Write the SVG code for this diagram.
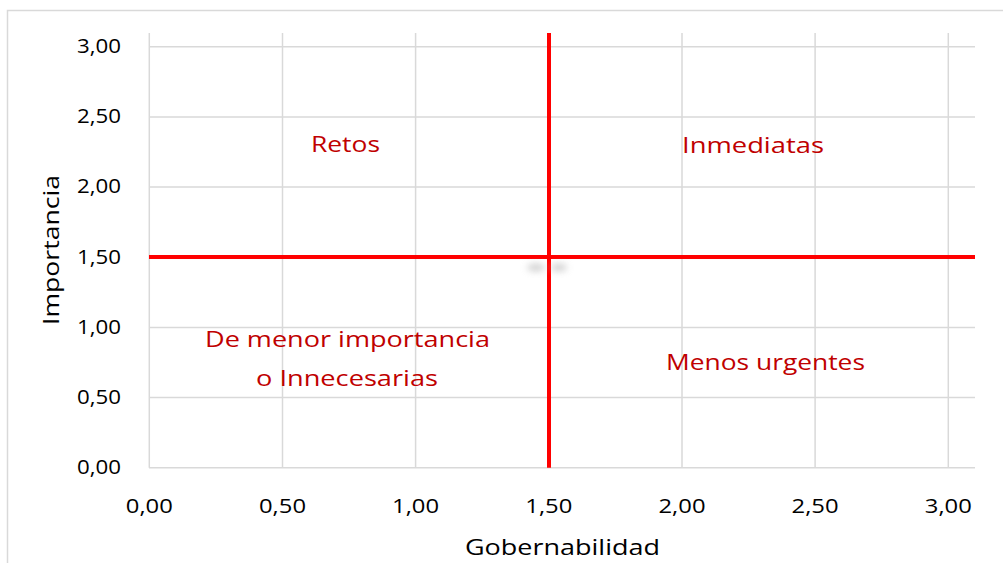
<svg xmlns="http://www.w3.org/2000/svg" width="1003" height="563" viewBox="0 0 1003 563">
<defs>
<style>
.grid{stroke:#D9D9D9;stroke-width:1.5;fill:none}
.red{stroke:#FF0000;stroke-width:4;fill:none}
.tick{font-family:"Open Sans","Liberation Sans",sans-serif;font-size:20px;fill:#000}
.ytick{text-anchor:end}
.xtick{text-anchor:middle}
.title{font-family:"Open Sans","Liberation Sans",sans-serif;font-size:22px;fill:#000;text-anchor:middle}
.quad{font-family:"Open Sans","Liberation Sans",sans-serif;font-size:22px;fill:#C00000;text-anchor:middle}
</style>
<filter id="blur" x="-50%" y="-100%" width="200%" height="300%"><feGaussianBlur stdDeviation="3.5"/></filter>
</defs>
<rect x="7.5" y="10.5" width="1000" height="560" fill="#FFFFFF" stroke="#D9D9D9" stroke-width="1.5"/>
<g id="gridlines">
<line class="grid" x1="149" y1="46.7" x2="975" y2="46.7"/>
<line class="grid" x1="149" y1="116.9" x2="975" y2="116.9"/>
<line class="grid" x1="149" y1="187" x2="975" y2="187"/>
<line class="grid" x1="149" y1="257.2" x2="975" y2="257.2"/>
<line class="grid" x1="149" y1="327.4" x2="975" y2="327.4"/>
<line class="grid" x1="149" y1="397.5" x2="975" y2="397.5"/>
<line class="grid" x1="149" y1="467.7" x2="975" y2="467.7"/>
<line class="grid" x1="149.3" y1="33" x2="149.3" y2="467.7"/>
<line class="grid" x1="282.5" y1="33" x2="282.5" y2="467.7"/>
<line class="grid" x1="415.6" y1="33" x2="415.6" y2="467.7"/>
<line class="grid" x1="548.8" y1="33" x2="548.8" y2="467.7"/>
<line class="grid" x1="682" y1="33" x2="682" y2="467.7"/>
<line class="grid" x1="815.1" y1="33" x2="815.1" y2="467.7"/>
<line class="grid" x1="948.3" y1="33" x2="948.3" y2="467.7"/>
</g>
<g id="axis-labels">
<text class="tick ytick" x="121" y="53" textLength="44" lengthAdjust="spacingAndGlyphs">3,00</text>
<text class="tick ytick" x="121" y="123" textLength="44" lengthAdjust="spacingAndGlyphs">2,50</text>
<text class="tick ytick" x="121" y="193" textLength="44" lengthAdjust="spacingAndGlyphs">2,00</text>
<text class="tick ytick" x="121" y="264" textLength="44" lengthAdjust="spacingAndGlyphs">1,50</text>
<text class="tick ytick" x="121" y="334" textLength="44" lengthAdjust="spacingAndGlyphs">1,00</text>
<text class="tick ytick" x="121" y="404" textLength="44" lengthAdjust="spacingAndGlyphs">0,50</text>
<text class="tick ytick" x="121" y="474" textLength="44" lengthAdjust="spacingAndGlyphs">0,00</text>
<text class="tick xtick" x="149.3" y="513" textLength="47" lengthAdjust="spacingAndGlyphs">0,00</text>
<text class="tick xtick" x="282.5" y="513" textLength="47" lengthAdjust="spacingAndGlyphs">0,50</text>
<text class="tick xtick" x="415.6" y="513" textLength="47" lengthAdjust="spacingAndGlyphs">1,00</text>
<text class="tick xtick" x="548.8" y="513" textLength="47" lengthAdjust="spacingAndGlyphs">1,50</text>
<text class="tick xtick" x="682" y="513" textLength="47" lengthAdjust="spacingAndGlyphs">2,00</text>
<text class="tick xtick" x="815.1" y="513" textLength="47" lengthAdjust="spacingAndGlyphs">2,50</text>
<text class="tick xtick" x="948.3" y="513" textLength="47" lengthAdjust="spacingAndGlyphs">3,00</text>
<text class="title" x="562.5" y="555" textLength="195" lengthAdjust="spacingAndGlyphs">Gobernabilidad</text>
<text class="title" transform="translate(59 250) rotate(-90)" x="0" y="0" textLength="150" lengthAdjust="spacingAndGlyphs">Importancia</text>
</g>
<g id="connectors">
<line id="divider-v" class="red" x1="549" y1="33" x2="549" y2="467.7"/>
<line id="divider-h" class="red" x1="149" y1="257" x2="975" y2="257"/>
</g>
<g id="smudge" filter="url(#blur)" fill="#B0B0B0" opacity="0.65">
<ellipse cx="536" cy="267.5" rx="9" ry="3.5"/>
<ellipse cx="559" cy="267.5" rx="8" ry="3.5"/>
</g>
<g id="node-retos"><text class="quad" x="345.5" y="152" textLength="69" lengthAdjust="spacingAndGlyphs">Retos</text></g>
<g id="node-inmediatas"><text class="quad" x="753" y="153" textLength="142" lengthAdjust="spacingAndGlyphs">Inmediatas</text></g>
<g id="node-menor"><text class="quad" x="347.5" y="346.5" textLength="285" lengthAdjust="spacingAndGlyphs">De menor importancia</text><text class="quad" x="347" y="386" textLength="182" lengthAdjust="spacingAndGlyphs">o Innecesarias</text></g>
<g id="node-menos-urgentes"><text class="quad" x="765.5" y="370" textLength="199" lengthAdjust="spacingAndGlyphs">Menos urgentes</text></g>
</svg>
